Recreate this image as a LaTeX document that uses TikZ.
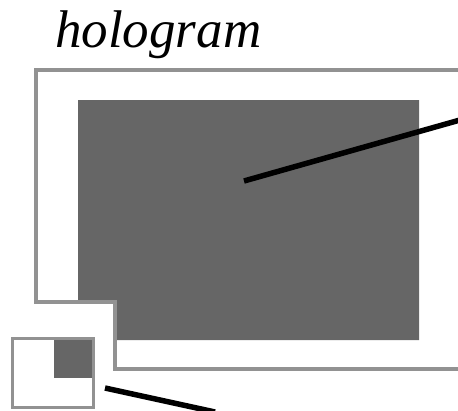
\documentclass[tikz,border=0pt]{standalone}
\usepackage{fontspec}
\setmainfont{Liberation Serif}
\definecolor{framegray}{HTML}{929292}
\definecolor{fillgray}{HTML}{666666}
\begin{document}
\begin{tikzpicture}[x=1pt,y=-1pt,
  frameline/.style={draw=framegray,line width=3.4pt,line join=miter},
  panel/.style={fill=fillgray,draw=none},
  pointer/.style={draw=black,line width=5.5pt},
  title/.style={font=\itshape\fontsize{53}{53}\selectfont,inner sep=0pt,anchor=base west}]
\useasboundingbox (0,0) rectangle (458,410);
% main gray panel (L-shaped)
\fill[panel] (78,100) -- (419,100) -- (419,340) -- (116,340) -- (116,302) -- (78,302) -- cycle;
% main frame (L-shaped, cut at right edge)
\draw[frameline] (470,70) -- (36,70) -- (36,302) -- (115,302) -- (115,369) -- (470,369);
% small icon
\fill[panel] (54,338) rectangle (93,378);
\draw[frameline,line width=3pt] (12,338) rectangle (93,407);
% title
\node[title] (t) at (55,47) {hologram};
% pointers
\coordinate (p1a) at (244,181);
\coordinate (p1b) at (460,120);
\coordinate (p2a) at (105,388);
\coordinate (p2b) at (215,412);
\draw[pointer] (p1a) -- (p1b);
\draw[pointer] (p2a) -- (p2b);
\end{tikzpicture}
\end{document}
